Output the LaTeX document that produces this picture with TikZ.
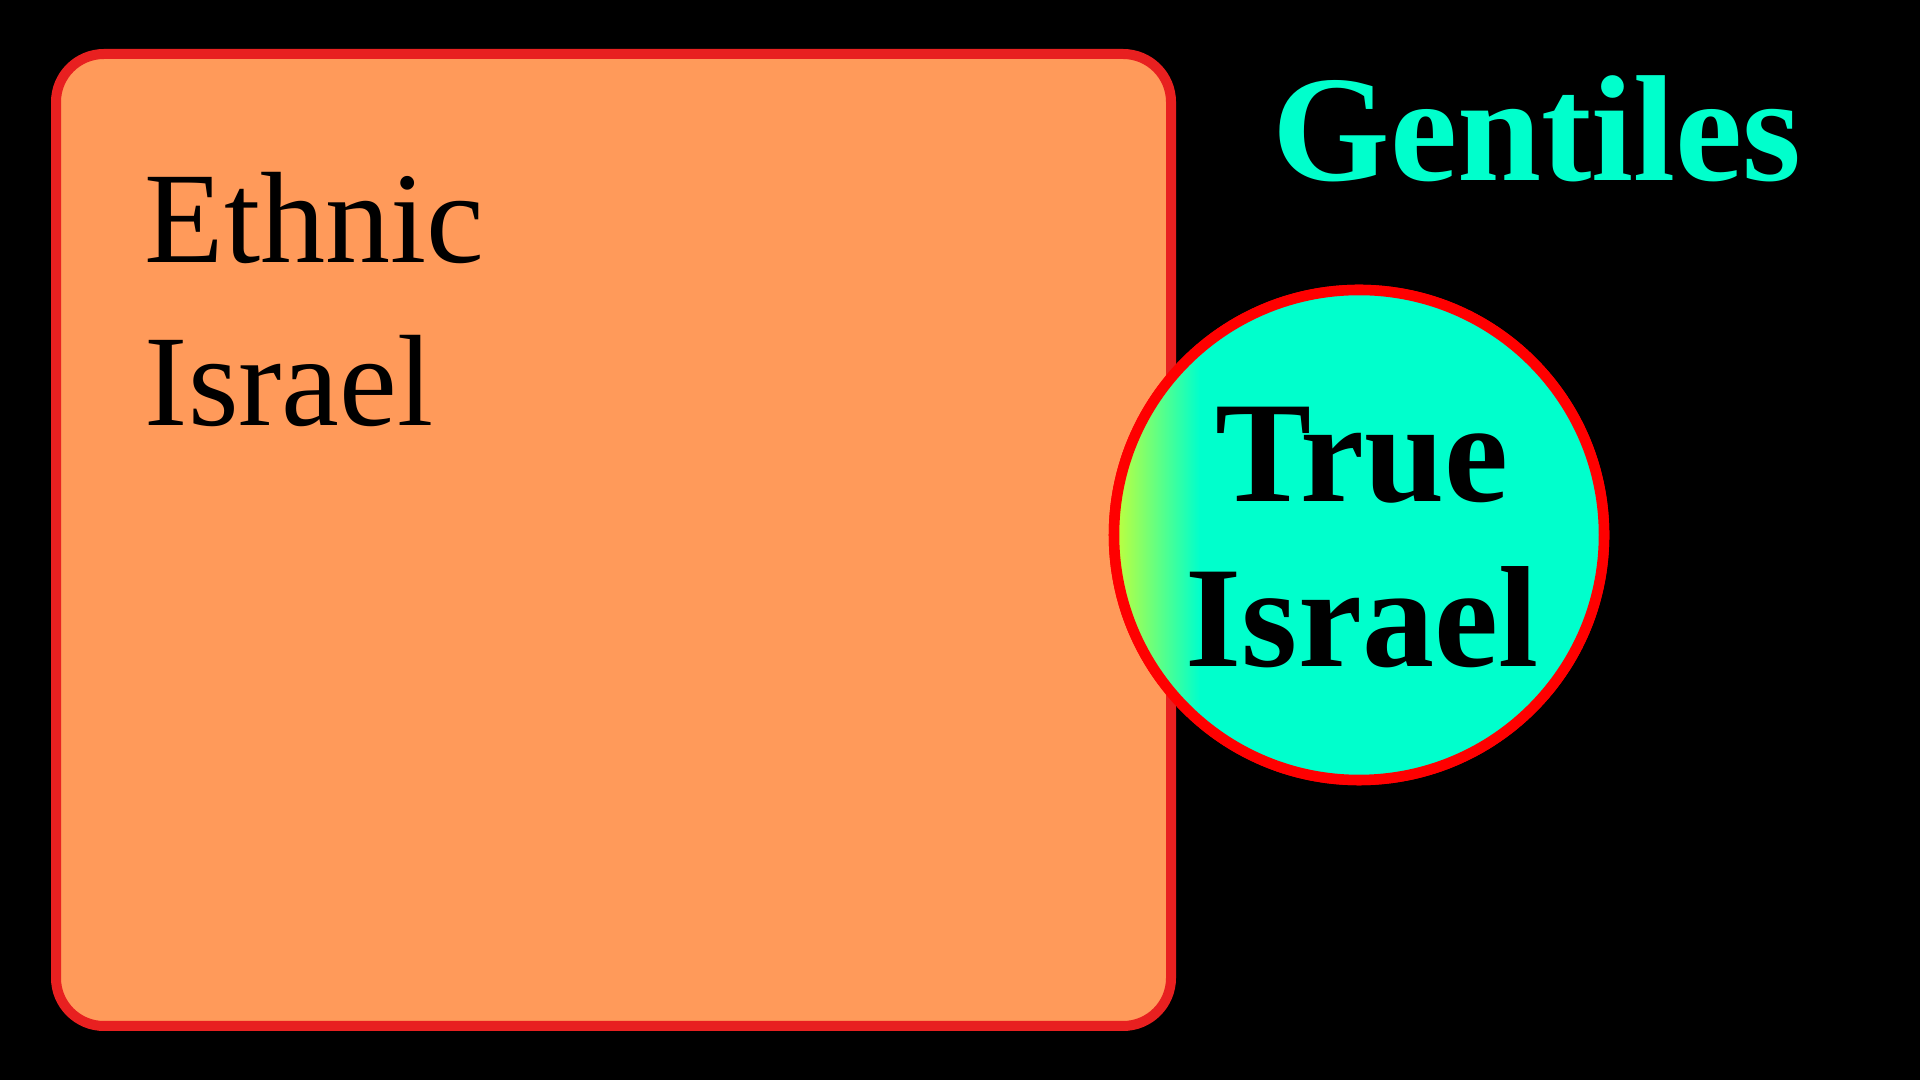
\documentclass[tikz,border=0pt]{standalone}
\usepackage{fontspec}
\setmainfont{Liberation Serif}
\begin{document}
\begin{tikzpicture}
\definecolor{boxorange}{HTML}{FF9A5A}
\definecolor{boxred}{HTML}{E82020}
\definecolor{tcyan}{HTML}{00FFCC}
\definecolor{ygreen}{HTML}{CCFF33}
\tikzset{bigtext/.style={inner sep=0pt, anchor=base west}}
\fill[black] (0,0) rectangle (19.2,10.8);
\useasboundingbox (0,0) rectangle (19.2,10.8);
\draw[boxred, line width=10pt*0.2845, fill=boxorange, rounded corners=0.48cm] (0.56,0.54) rectangle (11.71,10.26);
\node[draw=red, line width=3pt, circle, minimum size=4.9cm, fill=tcyan, inner sep=0pt] (c) at (13.59,5.45) {};
\begin{scope}
\clip (c.center) circle (2.41cm);
\shade[left color=ygreen, right color=tcyan] (11.1,2.9) rectangle (12.0,8.0);
\fill[tcyan] (12.0,2.9) rectangle (16.1,8.0);
\end{scope}
\draw[red, line width=3pt] (c.center) circle (2.45cm);
\node[bigtext] (e1) at (1.44,8.17) {\fontsize{37}{46}\selectfont Ethnic};
\node[bigtext] (e2) at (1.44,6.54) {\fontsize{37}{46}\selectfont Israel};
\node[inner sep=0pt, anchor=base, text=tcyan] (g) at (15.37,8.99) {\fontsize{43}{50}\selectfont\bfseries Gentiles};
\node[inner sep=0pt, anchor=base] (t1) at (13.62,5.78) {\fontsize{41}{50}\selectfont\bfseries True};
\node[inner sep=0pt, anchor=base] (t2) at (13.62,4.13) {\fontsize{41}{50}\selectfont\bfseries Israel};
\end{tikzpicture}
\end{document}
